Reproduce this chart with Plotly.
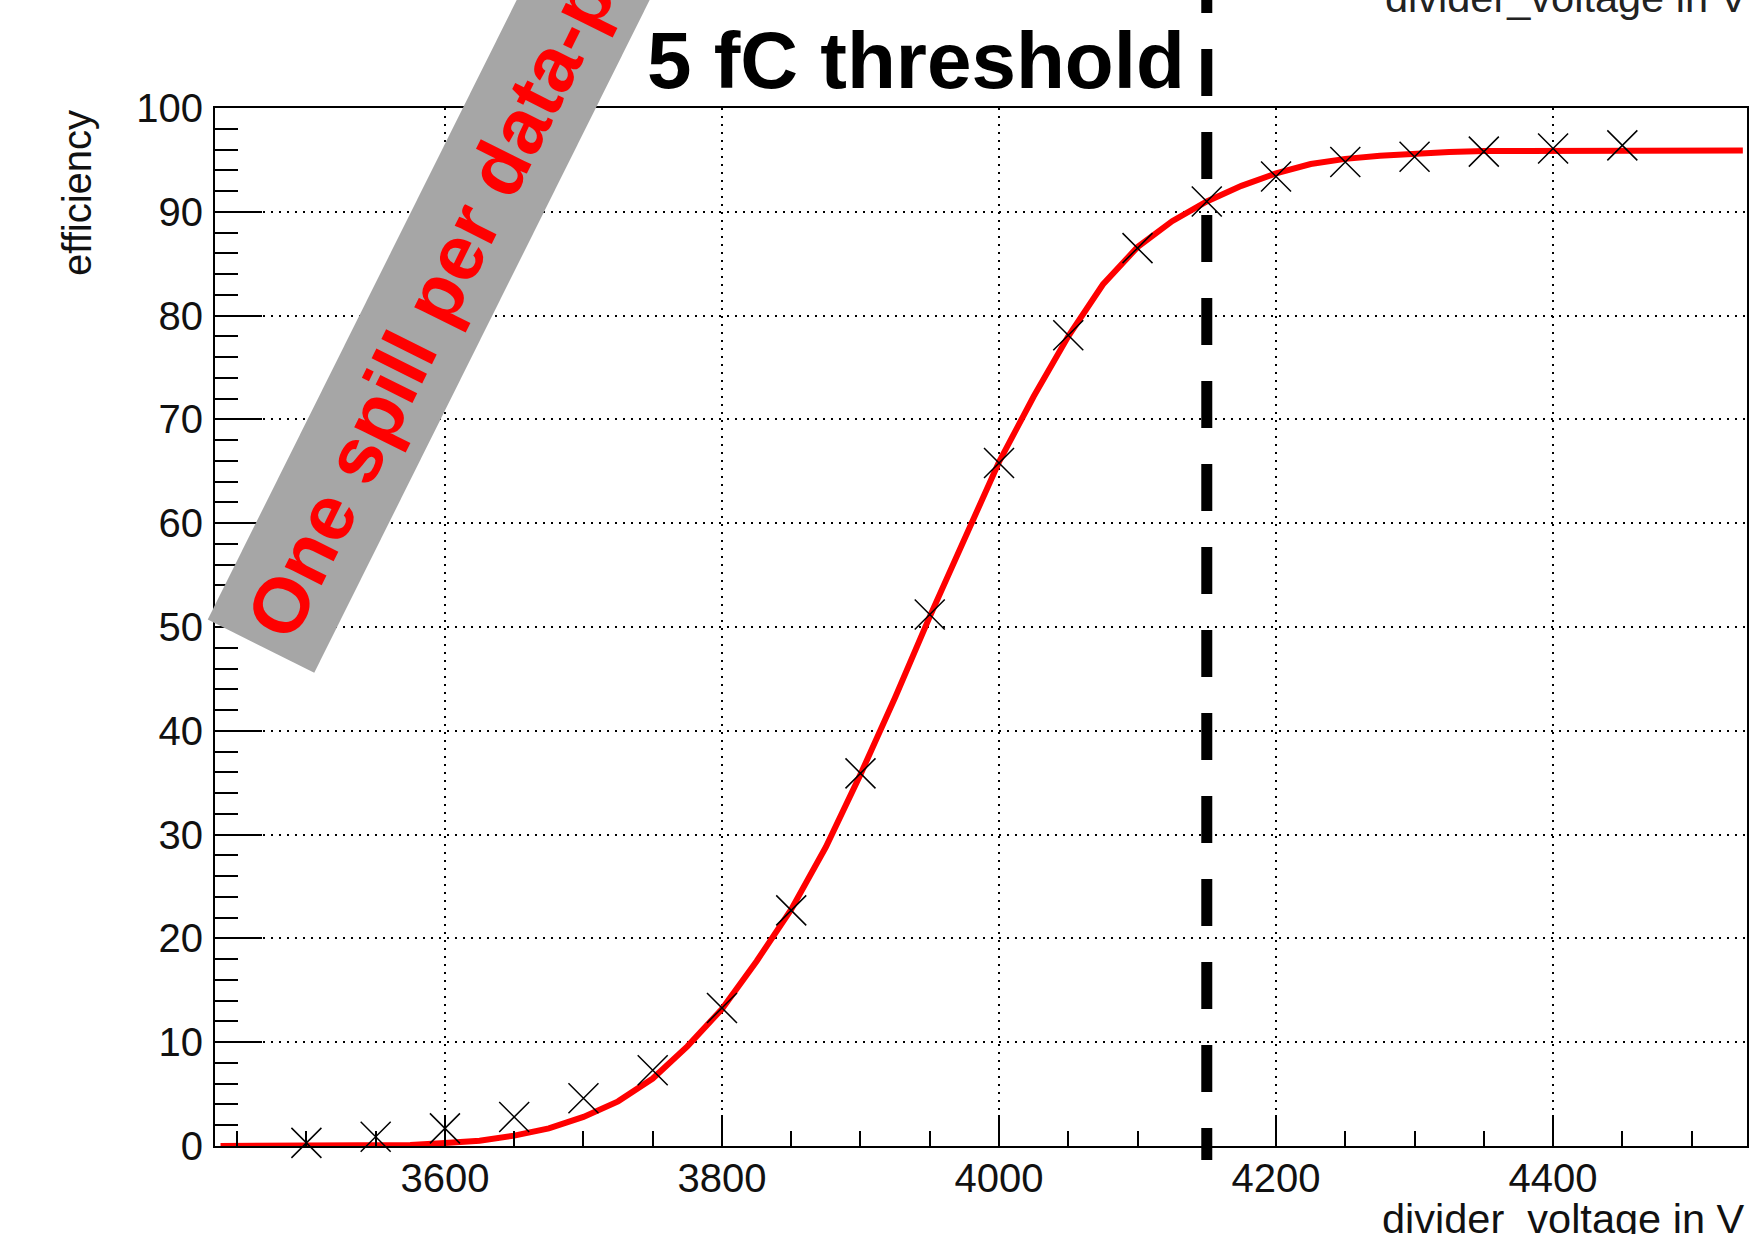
import plotly.graph_objects as go

# measured points
voltage = [3500, 3550, 3600, 3650, 3700, 3750, 3800, 3850, 3900, 3950,
           4000, 4050, 4100, 4150, 4200, 4250, 4300, 4350, 4400, 4450]
efficiency = [0.3, 0.9, 1.7, 2.8, 4.6, 7.3, 13.3, 22.7, 35.9, 51.2,
              65.8, 78.1, 86.5, 91.0, 93.4, 94.8, 95.3, 95.8, 96.1, 96.4]

# fitted curve
fit_voltage = [3438, 3475, 3500, 3525, 3550, 3575, 3600, 3625, 3650, 3675,
               3700, 3725, 3750, 3775, 3800, 3825, 3850, 3875, 3900, 3925,
               3950, 3975, 4000, 4025, 4050, 4075, 4100, 4125, 4150, 4175,
               4200, 4225, 4250, 4275, 4300, 4325, 4350, 4400, 4450, 4500, 4537]
fit_efficiency = [0.0, 0.0, 0.0, 0.0, 0.05, 0.1, 0.3, 0.5, 1.0, 1.7,
                  2.8, 4.3, 6.5, 9.6, 13.2, 17.8, 22.8, 28.8, 35.8, 43.2,
                  51.0, 58.6, 65.9, 72.2, 78.0, 83.0, 86.6, 89.1, 91.0, 92.5,
                  93.7, 94.6, 95.1, 95.4, 95.6, 95.75, 95.85, 95.9, 95.9, 95.9, 95.9]

threshold_voltage = 4150
x_range = [3434, 4540]
y_range = [0, 100]
x_ticks = [3600, 3800, 4000, 4200, 4400]
y_ticks = [0, 10, 20, 30, 40, 50, 60, 70, 80, 90, 100]

W, H = 1753, 1234
L, R, T, B = 215, 6, 108, 88
PW, PH = W - L - R, H - T - B


def px(xp):
    return (xp - L) / PW


def py(yp):
    return (H - B - yp) / PH


FONT = "Liberation Sans, Arial, Helvetica, sans-serif"

fig = go.Figure()
fig.add_trace(go.Scatter(
    x=fit_voltage, y=fit_efficiency, mode="lines",
    line=dict(color="#ff0000", width=6), hoverinfo="skip"))
fig.add_trace(go.Scatter(
    x=voltage, y=efficiency, mode="markers",
    marker=dict(symbol="x-thin-open", size=30, color="black",
                line=dict(color="black", width=1.5)),
    cliponaxis=False))

fig.add_shape(type="line", xref="x", yref="paper",
              x0=threshold_voltage, x1=threshold_voltage,
              y0=py(-34), y1=py(1160),
              line=dict(color="black", width=11, dash="47px,36px"))

axis_common = dict(
    showline=True, linecolor="black", linewidth=2, mirror=True,
    showgrid=True, gridcolor="black", gridwidth=1.5, griddash="2px,6px",
    ticks="inside", tickcolor="black", tickwidth=2,
    tickfont=dict(family=FONT, size=40, color="#111"),
    zeroline=False,
)

fig.update_xaxes(range=x_range, tickvals=x_ticks, ticklen=31,
                 ticklabelstandoff=-4,
                 minor=dict(dtick=50, tick0=3400, ticklen=15, tickwidth=2,
                            tickcolor="black", ticks="inside", showgrid=False),
                 **axis_common)
fig.update_yaxes(range=y_range, tickvals=y_ticks, ticklen=47,
                 ticklabelstandoff=2,
                 minor=dict(dtick=2, ticklen=23, tickwidth=2,
                            tickcolor="black", ticks="inside", showgrid=False),
                 **axis_common)

annotations = [
    dict(text="<b>5 fC threshold</b>", x=px(916), y=py(60),
         xanchor="center", yanchor="middle",
         font=dict(family=FONT, size=80, color="black")),
    dict(text="<b>One spill per data-point</b>", x=px(462), y=py(243),
         xanchor="center", yanchor="middle", textangle=-63.5,
         bgcolor="#a6a6a6", borderpad=15,
         font=dict(family=FONT, size=78, color="#ff0000")),
    dict(text="divider_voltage in V", x=px(1750), y=py(-2),
         xanchor="right", yanchor="middle",
         font=dict(family=FONT, size=41.5, color="#222")),
    dict(text="divider\u00a0\u00a0voltage in V", x=px(1746), y=py(1218),
         xanchor="right", yanchor="middle",
         font=dict(family=FONT, size=41.5, color="#111")),
    dict(text="efficiency", x=px(77), y=py(108), textangle=-90,
         xanchor="center", yanchor="top",
         font=dict(family=FONT, size=40, color="#111")),
]
for a in annotations:
    a.update(xref="paper", yref="paper", showarrow=False)

fig.update_layout(
    width=W, height=H,
    margin=dict(l=L, r=R, t=T, b=B, autoexpand=False),
    paper_bgcolor="white", plot_bgcolor="white",
    showlegend=False, annotations=annotations,
)

fig.write_html("out.html")
